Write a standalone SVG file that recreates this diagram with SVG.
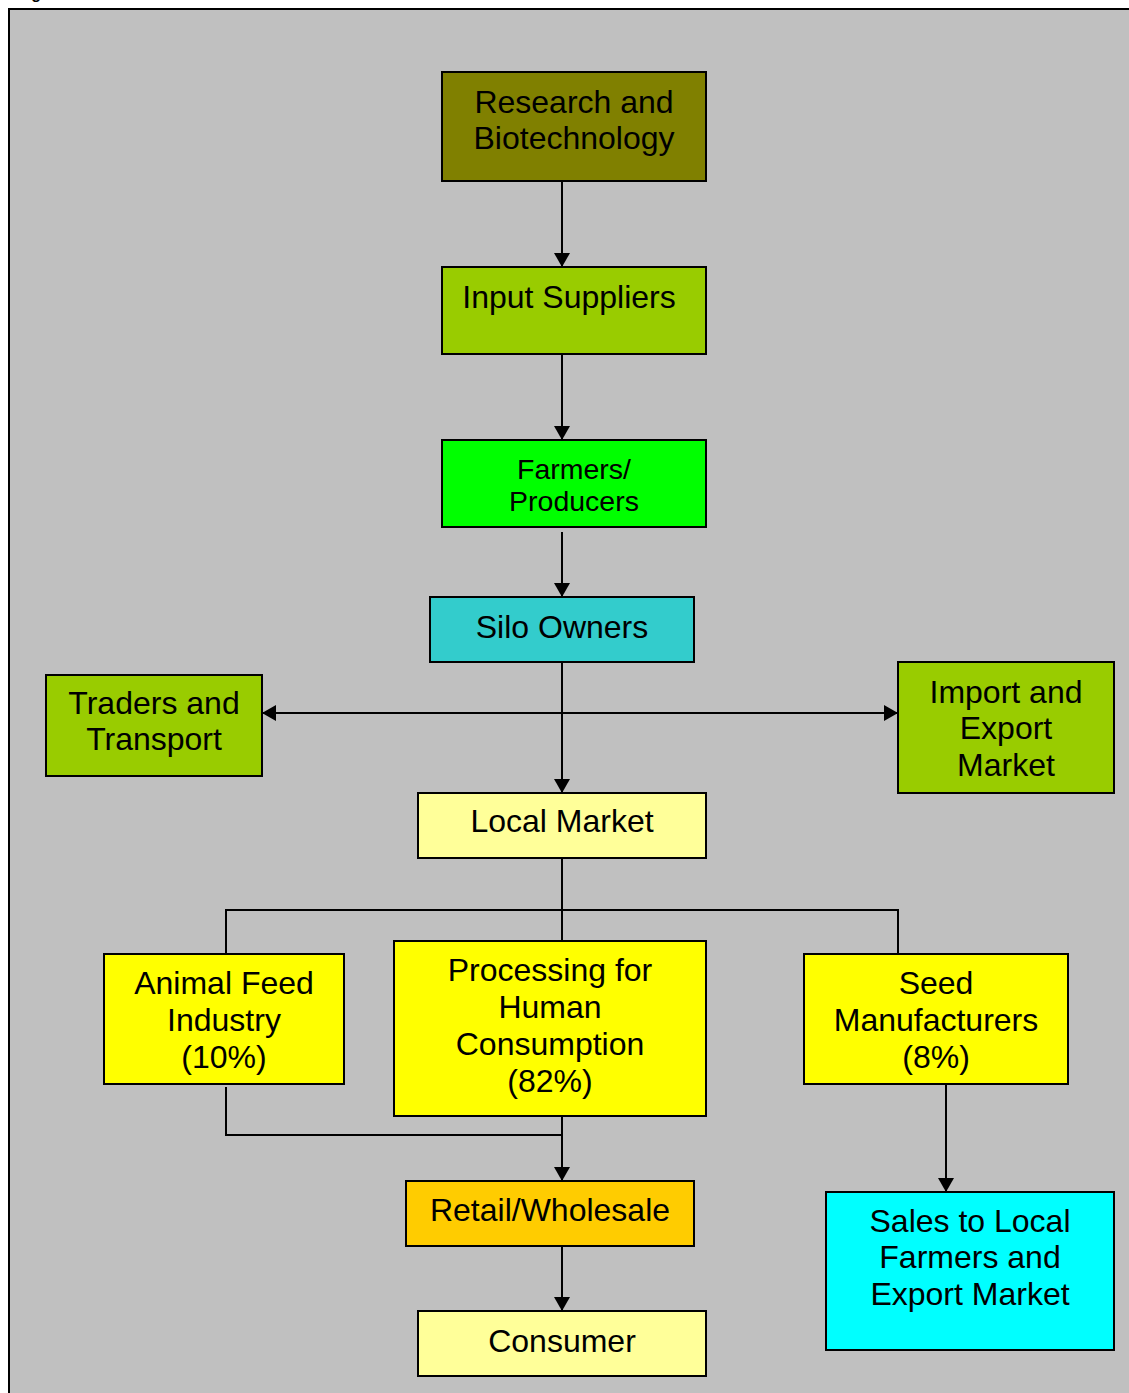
<svg xmlns="http://www.w3.org/2000/svg" width="1129" height="1393" viewBox="0 0 1129 1393">
<defs>
<style>
.box{stroke:#000;stroke-width:2}
.t{font-family:"Liberation Sans",Arial,sans-serif;font-size:32px;fill:#000;text-anchor:middle}
.s{font-size:28.5px}
.c{fill:none;stroke:#000;stroke-width:2}
</style>
<marker id="ah" viewBox="0 0 14 16" refX="14" refY="8" markerWidth="14" markerHeight="16" markerUnits="userSpaceOnUse" orient="auto-start-reverse">
<path d="M0,0 L14,8 L0,16 Z" fill="#000"/>
</marker>
</defs>
<rect x="0" y="0" width="1129" height="1393" fill="#fff"/>
<text x="17" y="-1" font-family="Liberation Sans,Arial,sans-serif" font-size="16" font-weight="bold">Figure</text>
<rect x="9" y="9" width="1130" height="1400" fill="#c0c0c0" stroke="#000" stroke-width="2"/>

<g id="connectors">
<line class="c" x1="562" y1="181" x2="562" y2="267" marker-end="url(#ah)"/>
<line class="c" x1="562" y1="354" x2="562" y2="440" marker-end="url(#ah)"/>
<line class="c" x1="562" y1="532" x2="562" y2="597" marker-end="url(#ah)"/>
<line class="c" x1="562" y1="662" x2="562" y2="793" marker-end="url(#ah)"/>
<line class="c" x1="262" y1="713" x2="898" y2="713" marker-start="url(#ah)" marker-end="url(#ah)"/>
<line class="c" x1="562" y1="855" x2="562" y2="941"/>
<polyline class="c" points="226,954 226,910 898,910 898,954"/>
<polyline class="c" points="226,1087 226,1135 562,1135"/>
<line class="c" x1="562" y1="1116" x2="562" y2="1181" marker-end="url(#ah)"/>
<line class="c" x1="946" y1="1084" x2="946" y2="1192" marker-end="url(#ah)"/>
<line class="c" x1="562" y1="1246" x2="562" y2="1311" marker-end="url(#ah)"/>
</g>

<g id="research">
<rect class="box" x="442" y="72" width="264" height="109" fill="#808000"/>
<text class="t" x="574" y="113">Research and</text>
<text class="t" x="574" y="149">Biotechnology</text>
</g>
<g id="input-suppliers">
<rect class="box" x="442" y="267" width="264" height="87" fill="#99cc00"/>
<text class="t" x="569" y="308">Input Suppliers</text>
</g>
<g id="farmers">
<rect class="box" x="442" y="440" width="264" height="87" fill="#00ff00"/>
<text class="t s" x="574" y="479">Farmers/</text>
<text class="t s" x="574" y="511">Producers</text>
</g>
<g id="silo-owners">
<rect class="box" x="430" y="597" width="264" height="65" fill="#33cccc"/>
<text class="t" x="562" y="638">Silo Owners</text>
</g>
<g id="traders">
<rect class="box" x="46" y="675" width="216" height="101" fill="#99cc00"/>
<text class="t" x="154" y="714">Traders and</text>
<text class="t" x="154" y="750">Transport</text>
</g>
<g id="import-export">
<rect class="box" x="898" y="662" width="216" height="131" fill="#99cc00"/>
<text class="t" x="1006" y="703">Import and</text>
<text class="t" x="1006" y="739">Export</text>
<text class="t" x="1006" y="776">Market</text>
</g>
<g id="local-market">
<rect class="box" x="418" y="793" width="288" height="65" fill="#ffff99"/>
<text class="t" x="562" y="832">Local Market</text>
</g>
<g id="animal-feed">
<rect class="box" x="104" y="954" width="240" height="130" fill="#ffff00"/>
<text class="t" x="224" y="994">Animal Feed</text>
<text class="t" x="224" y="1031">Industry</text>
<text class="t" x="224" y="1068">(10%)</text>
</g>
<g id="processing">
<rect class="box" x="394" y="941" width="312" height="175" fill="#ffff00"/>
<text class="t" x="550" y="981">Processing for</text>
<text class="t" x="550" y="1018">Human</text>
<text class="t" x="550" y="1055">Consumption</text>
<text class="t" x="550" y="1092">(82%)</text>
</g>
<g id="seed">
<rect class="box" x="804" y="954" width="264" height="130" fill="#ffff00"/>
<text class="t" x="936" y="994">Seed</text>
<text class="t" x="936" y="1031">Manufacturers</text>
<text class="t" x="936" y="1068">(8%)</text>
</g>
<g id="retail">
<rect class="box" x="406" y="1181" width="288" height="65" fill="#ffcc00"/>
<text class="t" x="550" y="1221">Retail/Wholesale</text>
</g>
<g id="consumer">
<rect class="box" x="418" y="1311" width="288" height="65" fill="#ffff99"/>
<text class="t" x="562" y="1352">Consumer</text>
</g>
<g id="sales">
<rect class="box" x="826" y="1192" width="288" height="158" fill="#00ffff"/>
<text class="t" x="970" y="1232">Sales to Local</text>
<text class="t" x="970" y="1268">Farmers and</text>
<text class="t" x="970" y="1305">Export Market</text>
</g>
</svg>
